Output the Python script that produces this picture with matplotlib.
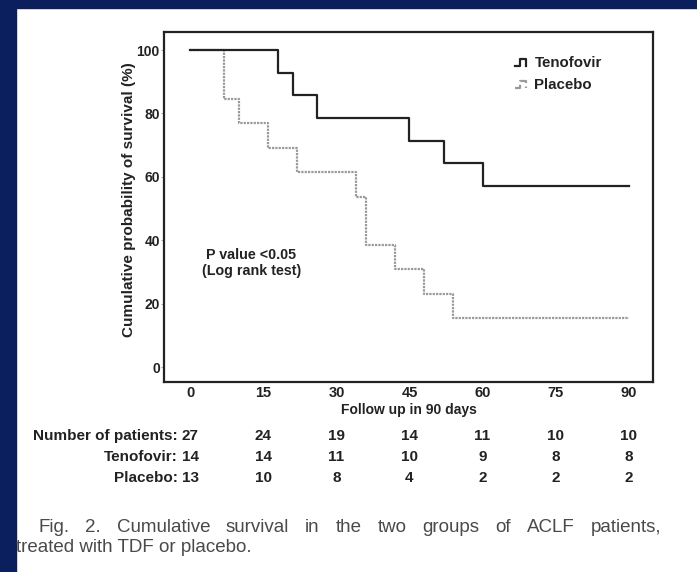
import matplotlib
matplotlib.use("Agg")
import matplotlib.pyplot as plt
from matplotlib.patches import Rectangle
from matplotlib.lines import Line2D
from matplotlib.legend_handler import HandlerLine2D
import matplotlib.transforms as mtransforms

# survival curves (days, % surviving)
tenofovir_days = [0, 18, 21, 26, 45, 52, 60, 90]
tenofovir_surv = [100, 92.9, 85.7, 78.6, 71.4, 64.3, 57.1, 57.1]
placebo_days = [0, 7, 10, 16, 22, 34, 36, 42, 48, 54, 90]
placebo_surv = [100, 84.6, 76.9, 69.2, 61.5, 53.8, 38.5, 30.8, 23.1, 15.4, 15.4]

# numbers at risk
risk_ticks = [0, 15, 30, 45, 60, 75, 90]
risk_rows = ["Number of patients:", "Tenofovir:", "Placebo:"]
risk_total = [27, 24, 19, 14, 11, 10, 10]
risk_teno = [14, 14, 11, 10, 9, 8, 8]
risk_plac = [13, 10, 8, 4, 2, 2, 2]

caption_1 = "Fig. 2. Cumulative survival in the two groups of ACLF patients,"
caption_2 = "treated with TDF or placebo."

plt.rcParams['font.family'] = 'Liberation Sans'
ink = '#222222'

W, H = 697, 572
fig = plt.figure(figsize=(W / 100, H / 100), dpi=100)
fig.patch.set_facecolor('white')
navy = '#0b1f5e'
fig.patches.append(Rectangle((0, 0), 16 / W, 1, transform=fig.transFigure, color=navy, zorder=0))
fig.patches.append(Rectangle((0, 1 - 8 / H), 1, 8 / H, transform=fig.transFigure, color=navy, zorder=0))

ax = fig.add_axes([164 / W, 1 - 382 / H, (653 - 164) / W, (382 - 32) / H])
ax.plot(placebo_days, placebo_surv, drawstyle='steps-post', color='#999999',
        lw=1.6, linestyle=(0, (1, 0.5)), label='Placebo')
ax.plot(tenofovir_days, tenofovir_surv, drawstyle='steps-post', color=ink,
        lw=1.6, label='Tenofovir')

ax.set_xlim(-5.4, 95)
ax.set_ylim(-4.7, 105.7)
ax.set_xticks(risk_ticks)
ax.set_yticks([0, 20, 40, 60, 80, 100])
ax.tick_params(axis='x', length=0, pad=3, labelsize=10.5)
ax.tick_params(axis='y', length=2, width=0.6, color='#999999', pad=1, labelsize=10)
for lab in ax.get_xticklabels() + ax.get_yticklabels():
    lab.set_fontweight('bold')
    lab.set_color(ink)
for s in ax.spines.values():
    s.set_linewidth(1.6)
    s.set_color(ink)

ax.set_xlabel('Follow up in 90 days', fontweight='bold', fontsize=10, labelpad=2, color=ink)
ax.set_ylabel('Cumulative probability of survival (%)', fontweight='bold', fontsize=11, color=ink)
ax.yaxis.set_label_coords(-0.058, 0.52)

ax.text(12.5, 32.8, 'P value <0.05\n(Log rank test)', ha='center', va='center',
        fontweight='bold', fontsize=10.3, color=ink, linespacing=1.25)


class StepHandler(HandlerLine2D):
    def create_artists(self, legend, orig_handle, xdescent, ydescent, width, height, fontsize, trans):
        x0, y0 = -xdescent, -ydescent
        xs = [x0, x0 + 0.35 * width, x0 + 0.35 * width, x0 + 0.85 * width, x0 + 0.85 * width]
        ys = [y0 + 0.1 * height, y0 + 0.1 * height, y0 + 0.8 * height, y0 + 0.8 * height, y0 + 0.1 * height]
        ln = Line2D(xs, ys, color=orig_handle.get_color(), lw=1.6,
                    linestyle=orig_handle.get_linestyle(), transform=trans)
        return [ln]


h, l = ax.get_legend_handles_labels()
leg = ax.legend(h[::-1], l[::-1], loc='upper left', bbox_to_anchor=(0.69, 0.97), frameon=False,
                handlelength=0.9, handletextpad=0.4, labelspacing=0.55,
                prop={'weight': 'bold', 'size': 10.8},
                handler_map={Line2D: StepHandler()})
for t in leg.get_texts():
    t.set_color(ink)

# numbers at risk table
tr = mtransforms.blended_transform_factory(ax.transData, fig.transFigure)
row_y = [1 - 436 / H, 1 - 457 / H, 1 - 478 / H]
for name, vals, y in zip(risk_rows, [risk_total, risk_teno, risk_plac], row_y):
    ax.text(-2.6, y, name, transform=tr, ha='right', va='center', fontsize=11,
            fontweight='bold', color=ink, clip_on=False)
    for xv, v in zip(risk_ticks, vals):
        ax.text(xv, y, str(v), transform=tr, ha='center', va='center', fontsize=11,
                fontweight='bold', color=ink, clip_on=False)

# caption, first line justified
renderer = fig.canvas.get_renderer()
words = caption_1.split(' ')
cap_kw = dict(fontsize=13.5, color='#4a4a4a', va='center', ha='left')
x_left, x_right = 38 / W, 661 / W
arts = [fig.text(0, 1 - 527 / H, w, **cap_kw) for w in words]
widths = [a.get_window_extent(renderer).width / W for a in arts]
gap = (x_right - x_left - sum(widths)) / (len(words) - 1)
x = x_left
for a, wd in zip(arts, widths):
    a.set_x(x)
    x += wd + gap
fig.text(16 / W, 1 - 548 / H, caption_2, **cap_kw)

fig.savefig('out.png', dpi=100)
